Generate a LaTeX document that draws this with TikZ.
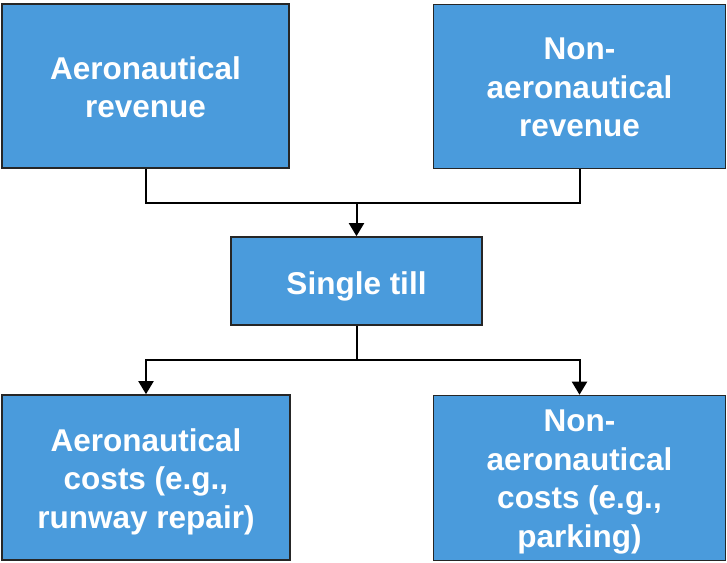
\documentclass[tikz,border=0pt]{standalone}
\usepackage{fontspec}
\setmainfont{Liberation Sans}
\usetikzlibrary{arrows.meta}
\definecolor{boxblue}{RGB}{74,155,220}
\begin{document}
\begin{tikzpicture}[x=1pt,y=-1pt,
  box/.style={draw=black!85,line width=1.6pt,fill=boxblue,inner sep=0pt},
  boxtext/.style={text=white,font=\fontsize{31.5}{38.5}\selectfont\bfseries,align=center,inner sep=0pt},
  conn/.style={line width=2pt,black},
  arr/.style={conn,-{Triangle[width=15pt,length=13pt]}}]
\useasboundingbox (0,0) rectangle (727,562);
\node[box,minimum width=287pt,minimum height=164pt] (tl) at (145.5,86) {};
\node[box,minimum width=292pt,minimum height=164pt] (tr) at (579.5,86.5) {};
\node[box,minimum width=251pt,minimum height=88pt] (mid) at (356.5,281) {};
\node[box,minimum width=288pt,minimum height=165pt] (bl) at (146,477.5) {};
\node[box,minimum width=292pt,minimum height=165pt] (br) at (579.5,478) {};
\node[boxtext] (tltext) at ([yshift=-1pt]tl.center) {Aeronautical\\revenue};
\node[boxtext] (trtext) at ([yshift=-1pt]tr.center) {Non-\\aeronautical\\revenue};
\node[boxtext] (midtext) at ([yshift=-5pt]mid.center) {Single till};
\node[boxtext] (bltext) at ([yshift=-4pt]bl.center) {Aeronautical\\costs (e.g.,\\runway repair)};
\node[boxtext] (brtext) at ([yshift=-4pt]br.center) {Non-\\aeronautical\\costs (e.g.,\\parking)};
\coordinate (j1) at (356.5,203);
\coordinate (j2) at (356.5,360);
\draw[conn] (tl.south) |- (j1) -| (tr.south);
\draw[arr] (j1) -- (mid.north);
\draw[conn] (mid.south) -- (j2);
\draw[arr] (j2) -| (bl.north);
\draw[arr] (j2) -| (br.north);
\end{tikzpicture}
\end{document}
